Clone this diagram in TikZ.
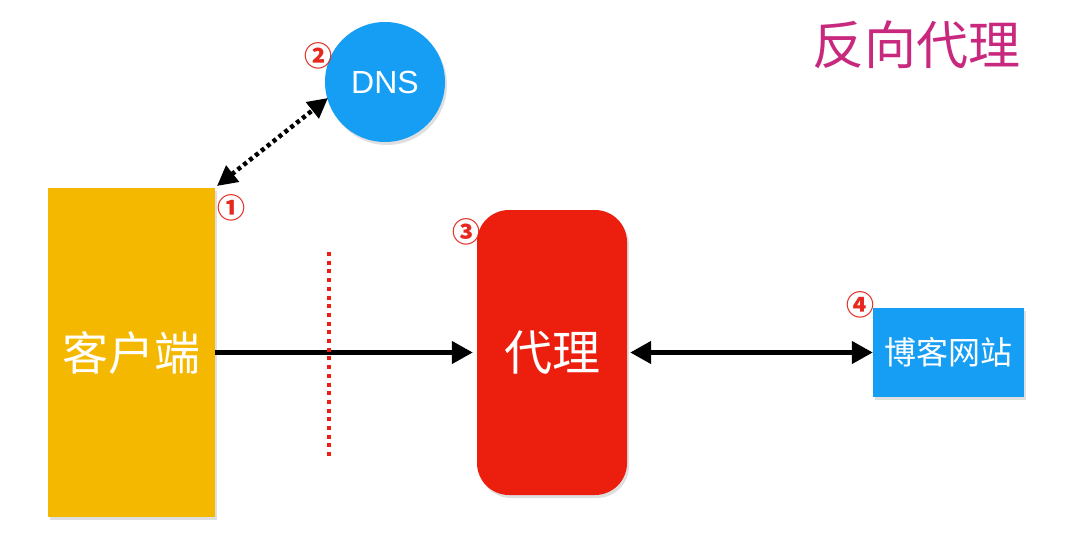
\documentclass[tikz,border=0pt]{standalone}
\usepackage{fontspec}
\newfontfamily\cjk{Noto Sans CJK SC}
\newfontfamily\lsans{Liberation Sans}
\usetikzlibrary{arrows.meta,shadows}
\definecolor{cyel}{RGB}{244,184,0}
\definecolor{cred}{RGB}{236,30,14}
\definecolor{cblue}{RGB}{22,158,245}
\definecolor{cnum}{RGB}{230,40,30}
\definecolor{ctitle}{RGB}{200,40,125}
\tikzset{
  boxshadow/.style={drop shadow={opacity=0.25,shadow xshift=2pt,shadow yshift=-3pt}},
  clientbox/.style={fill=cyel,minimum width=167pt,minimum height=329pt,inner sep=0pt,boxshadow,
    font=\cjk\fontsize{46}{50}\selectfont,text=white},
  proxybox/.style={fill=cred,rounded corners=32pt,minimum width=150pt,minimum height=285pt,inner sep=0pt,boxshadow,
    font=\cjk\fontsize{48}{52}\selectfont,text=white},
  sitebox/.style={fill=cblue,minimum width=151pt,minimum height=89pt,inner sep=0pt,boxshadow,
    font=\cjk\fontsize{32}{36}\selectfont,text=white},
  dnscircle/.style={circle,fill=cblue,minimum size=120pt,inner sep=0pt,boxshadow,
    font=\lsans\fontsize{32}{36}\selectfont,text=white},
  numlabel/.style={text=cnum,font=\cjk\bfseries\fontsize{28}{30}\selectfont,inner sep=0pt},
  conn/.style={line width=4.5pt,-{Triangle[length=21pt,width=22pt]}},
  biconn/.style={line width=4.5pt,{Triangle[length=21pt,width=22pt]}-{Triangle[length=21pt,width=22pt]}},
  dotconn/.style={line width=4.5pt,dash pattern=on 4pt off 3.5pt,
    {Triangle[length=20pt,width=20pt]}-{Triangle[length=20pt,width=20pt]}},
  divider/.style={cred,line width=4pt,dash pattern=on 4pt off 4.7pt}
}
\begin{document}
\begin{tikzpicture}[x=1pt,y=-1pt]
\useasboundingbox[fill=white] (0,0) rectangle (1088,543);
\node[clientbox] (client) at (131.5,352.5) {客户端};
\node[proxybox] (proxy) at (552,352.5) {代理};
\node[sitebox] (site) at (948.5,352.5) {博客网站};
\node[dnscircle] (dns) at (385,82) {DNS};
\node[text=ctitle,font=\cjk\fontsize{52}{56}\selectfont,inner sep=0pt] (title) at (916,45) {反向代理};
\node[numlabel] (n1) at (231,208) {①};
\node[numlabel] (n2) at (318,56) {②};
\node[numlabel] (n3) at (466,232) {③};
\node[numlabel] (n4) at (860,305) {④};
\coordinate (cltop) at (217,186);
\coordinate (dnsend) at (328,98);
\draw[dotconn] (cltop) -- (dnsend);
\draw[conn] (client.east) -- ([xshift=-4pt]proxy.west);
\draw[biconn] ([xshift=3pt]proxy.east) -- (site.west);
\coordinate (dtop) at (329,252);
\coordinate (dbot) at (329,460);
\draw[divider] (dtop) -- (dbot);
\end{tikzpicture}
\end{document}
